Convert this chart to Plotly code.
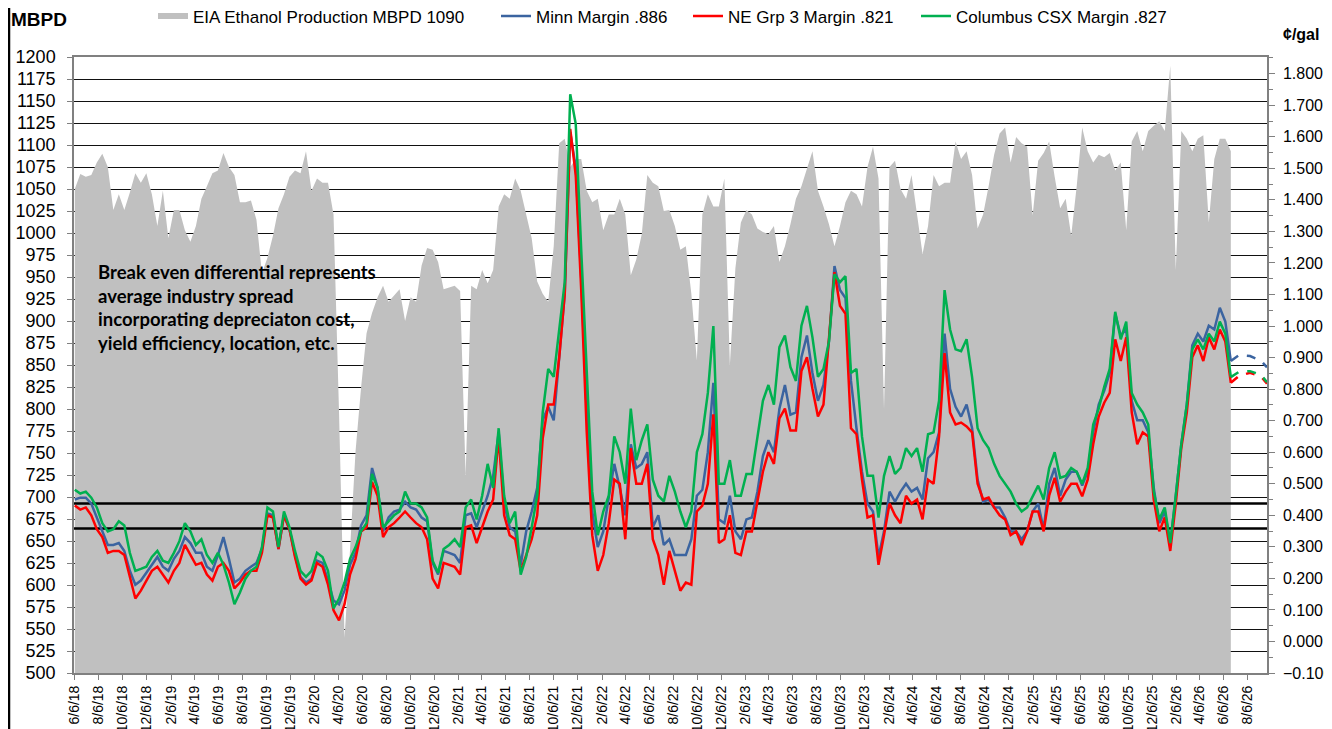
import pandas as pd
import plotly.graph_objects as go

start_date = "2018-06-06"

production = [
    1050, 1067, 1064, 1066, 1080, 1090, 1075, 1026, 1044, 1026,
    1046, 1068, 1057, 1068, 1044, 1008, 1048, 994, 1026, 1026,
    1003, 990, 1008, 1039, 1053, 1068, 1071, 1091, 1075, 1066,
    1035, 1035, 1037, 1015, 954, 972, 997, 1028, 1044, 1064,
    1071, 1068, 1093, 1048, 1062, 1057, 1057, 1021, 797, 540,
    640, 752, 824, 886, 909, 927, 940, 922, 929, 936,
    900, 927, 922, 963, 983, 981, 967, 936, 938, 940,
    934, 725, 940, 936, 958, 943, 958, 1030, 1044, 1039,
    1062, 1048, 1021, 994, 945, 931, 922, 985, 1102, 1107,
    1075, 1084, 1084, 1048, 1035, 1039, 1003, 1021, 1021, 1039,
    1021, 952, 970, 999, 1066, 1057, 1053, 1025, 1026, 1008,
    981, 985, 931, 855, 1021, 1044, 1030, 1030, 1062, 850,
    960, 1012, 1026, 1021, 1005, 1001, 999, 1008, 967, 985,
    1010, 1039, 1053, 1073, 1093, 1048, 1030, 1010, 985, 1008,
    1035, 1048, 1044, 1030, 1075, 1098, 1062, 800, 1075, 1082,
    1050, 1039, 1066, 1021, 976, 1008, 1066, 1053, 1057, 1057,
    1104, 1084, 1093, 1066, 1005, 1021, 1053, 1089, 1113, 1120,
    1080, 1109, 1102, 1098, 1020, 1082, 1091, 1104, 1064, 1028,
    1039, 997, 1053, 1120, 1093, 1080, 1089, 1086, 1091, 1071,
    1080, 1003, 1104, 1116, 1093, 1116, 1122, 1127, 1116, 1190,
    958, 1116, 1107, 1093, 1107, 1111, 1012, 1084, 1107, 1107,
    1093,
]

minn_margin = [
    0.450, 0.456, 0.456, 0.437, 0.393, 0.349, 0.306, 0.306, 0.312, 0.287,
    0.224, 0.180, 0.193, 0.218, 0.243, 0.268, 0.237, 0.224, 0.262, 0.287,
    0.331, 0.312, 0.281, 0.281, 0.237, 0.224, 0.274, 0.331, 0.262, 0.187,
    0.199, 0.224, 0.237, 0.249, 0.293, 0.406, 0.400, 0.293, 0.400, 0.356,
    0.274, 0.205, 0.187, 0.199, 0.256, 0.249, 0.193, 0.130, 0.118, 0.161,
    0.243, 0.281, 0.368, 0.400, 0.550, 0.487, 0.349, 0.393, 0.412, 0.418,
    0.443, 0.425, 0.418, 0.393, 0.381, 0.249, 0.212, 0.287, 0.281, 0.274,
    0.249, 0.400, 0.406, 0.362, 0.412, 0.462, 0.525, 0.663, 0.437, 0.362,
    0.349, 0.243, 0.349, 0.412, 0.487, 0.701, 0.744, 0.701, 0.901, 1.102,
    1.615, 1.503, 1.152, 0.726, 0.412, 0.299, 0.349, 0.450, 0.563, 0.487,
    0.400, 0.625, 0.550, 0.563, 0.600, 0.362, 0.400, 0.306, 0.324, 0.274,
    0.274, 0.274, 0.324, 0.462, 0.481, 0.600, 0.820, 0.387, 0.375, 0.462,
    0.349, 0.324, 0.387, 0.393, 0.475, 0.588, 0.638, 0.600, 0.738, 0.813,
    0.719, 0.726, 0.901, 0.970, 0.851, 0.763, 0.813, 0.951, 1.190, 1.114,
    1.089, 0.826, 0.676, 0.538, 0.437, 0.412, 0.268, 0.349, 0.475, 0.443,
    0.475, 0.500, 0.475, 0.487, 0.450, 0.581, 0.600, 0.663, 0.976, 0.801,
    0.744, 0.713, 0.751, 0.676, 0.513, 0.443, 0.450, 0.425, 0.425, 0.393,
    0.349, 0.349, 0.324, 0.349, 0.412, 0.437, 0.356, 0.500, 0.550, 0.462,
    0.513, 0.538, 0.538, 0.494, 0.538, 0.663, 0.751, 0.795, 0.851, 1.039,
    0.970, 0.989, 0.763, 0.701, 0.701, 0.663, 0.487, 0.375, 0.412, 0.312,
    0.462, 0.625, 0.751, 0.939, 0.976, 0.951, 1.001, 0.989, 1.058, 1.014,
    0.889,
]

ne_grp3_margin = [
    0.431, 0.418, 0.425, 0.400, 0.356, 0.331, 0.281, 0.287, 0.287, 0.274,
    0.205, 0.136, 0.161, 0.193, 0.224, 0.237, 0.212, 0.187, 0.224, 0.249,
    0.306, 0.274, 0.243, 0.249, 0.212, 0.193, 0.237, 0.249, 0.224, 0.168,
    0.187, 0.212, 0.224, 0.224, 0.281, 0.400, 0.393, 0.293, 0.400, 0.356,
    0.268, 0.199, 0.180, 0.193, 0.249, 0.237, 0.180, 0.099, 0.067, 0.118,
    0.212, 0.262, 0.349, 0.362, 0.506, 0.462, 0.331, 0.362, 0.375, 0.393,
    0.412, 0.393, 0.375, 0.362, 0.324, 0.199, 0.168, 0.249, 0.243, 0.237,
    0.212, 0.362, 0.368, 0.312, 0.362, 0.412, 0.450, 0.650, 0.400, 0.337,
    0.324, 0.224, 0.274, 0.324, 0.400, 0.644, 0.751, 0.751, 0.901, 1.102,
    1.625, 1.478, 1.114, 0.663, 0.337, 0.224, 0.274, 0.375, 0.513, 0.500,
    0.324, 0.613, 0.500, 0.500, 0.563, 0.324, 0.274, 0.180, 0.287, 0.224,
    0.161, 0.187, 0.180, 0.412, 0.431, 0.500, 0.720, 0.312, 0.324, 0.400,
    0.281, 0.274, 0.349, 0.349, 0.443, 0.538, 0.600, 0.563, 0.707, 0.738,
    0.669, 0.669, 0.857, 0.901, 0.801, 0.713, 0.751, 0.964, 1.171, 1.064,
    1.039, 0.676, 0.657, 0.513, 0.393, 0.400, 0.243, 0.337, 0.437, 0.400,
    0.375, 0.462, 0.437, 0.450, 0.387, 0.513, 0.500, 0.650, 0.914, 0.726,
    0.688, 0.694, 0.682, 0.663, 0.500, 0.450, 0.456, 0.425, 0.400, 0.387,
    0.337, 0.349, 0.306, 0.349, 0.412, 0.412, 0.349, 0.462, 0.519, 0.443,
    0.475, 0.500, 0.500, 0.460, 0.513, 0.625, 0.713, 0.757, 0.788, 0.958,
    0.889, 0.964, 0.726, 0.625, 0.663, 0.650, 0.450, 0.349, 0.393, 0.287,
    0.437, 0.613, 0.726, 0.901, 0.939, 0.889, 0.964, 0.926, 0.989, 0.951,
    0.820,
]

columbus_margin = [
    0.481, 0.469, 0.475, 0.456, 0.425, 0.375, 0.349, 0.356, 0.381, 0.368,
    0.281, 0.224, 0.230, 0.237, 0.268, 0.287, 0.256, 0.249, 0.281, 0.318,
    0.375, 0.349, 0.306, 0.324, 0.274, 0.249, 0.281, 0.243, 0.187, 0.118,
    0.155, 0.199, 0.224, 0.237, 0.299, 0.425, 0.412, 0.299, 0.412, 0.362,
    0.287, 0.224, 0.205, 0.224, 0.281, 0.268, 0.224, 0.105, 0.136, 0.187,
    0.262, 0.299, 0.349, 0.375, 0.531, 0.487, 0.362, 0.381, 0.400, 0.412,
    0.475, 0.437, 0.437, 0.425, 0.393, 0.256, 0.218, 0.293, 0.306, 0.324,
    0.299, 0.425, 0.450, 0.387, 0.462, 0.563, 0.487, 0.676, 0.462, 0.375,
    0.412, 0.212, 0.268, 0.362, 0.462, 0.726, 0.864, 0.839, 0.989, 1.139,
    1.735, 1.641, 1.240, 0.851, 0.475, 0.337, 0.412, 0.462, 0.650, 0.600,
    0.500, 0.738, 0.575, 0.638, 0.688, 0.513, 0.462, 0.444, 0.525, 0.475,
    0.412, 0.362, 0.412, 0.600, 0.657, 0.788, 1.000, 0.500, 0.500, 0.575,
    0.462, 0.462, 0.531, 0.531, 0.650, 0.763, 0.813, 0.751, 0.933, 0.970,
    0.870, 0.826, 1.001, 1.064, 0.964, 0.839, 0.864, 0.951, 1.164, 1.139,
    1.158, 0.851, 0.864, 0.650, 0.525, 0.525, 0.393, 0.525, 0.588, 0.531,
    0.550, 0.613, 0.588, 0.613, 0.538, 0.657, 0.663, 0.763, 1.114, 0.989,
    0.926, 0.920, 0.958, 0.838, 0.676, 0.638, 0.613, 0.563, 0.525, 0.500,
    0.475, 0.437, 0.412, 0.425, 0.462, 0.494, 0.450, 0.550, 0.600, 0.519,
    0.525, 0.550, 0.538, 0.500, 0.550, 0.688, 0.738, 0.807, 0.864, 1.045,
    0.958, 1.014, 0.788, 0.751, 0.726, 0.688, 0.475, 0.387, 0.425, 0.312,
    0.462, 0.625, 0.751, 0.926, 0.958, 0.926, 0.976, 0.951, 1.014, 0.976,
    0.838,
]

forecast_dates = ["2026-06-24", "2026-07-15", "2026-08-12", "2026-09-09", "2026-09-24"]
minn_forecast = [0.889, 0.908, 0.905, 0.890, 0.869]
ne_grp3_forecast = [0.820, 0.842, 0.852, 0.840, 0.817]
columbus_forecast = [0.838, 0.855, 0.857, 0.845, 0.822]

breakeven_high = 0.437
breakeven_low = 0.358

tick_dates = pd.date_range("2018-06-01", "2026-08-01", freq="2MS") + pd.Timedelta(days=5)
tick_text = [f"{d.month}/{d.day}/{d.strftime('%y')}" for d in tick_dates]

dates = pd.date_range(start_date, periods=len(production), freq="14D")
assert len(minn_margin) == len(ne_grp3_margin) == len(columbus_margin) == len(production)

BLUE = "#3B64A0"
RED = "#FF0000"
GREEN = "#00B050"
GRAY = "#C0C0C0"

# The page body has an 8px margin; the figure is sized to fill the rest of the window.
OFF = 8
W, H = 1332 - OFF, 729 - OFF
L, T = 74 - OFF, 57 - OFF
R = W - (1267 - OFF)
B = H - (673 - OFF)
pw, ph = W - L - R, H - T - B


def px_x(ref_px):
    return (ref_px - OFF - L) / pw


def px_y(ref_py):
    return (H - B - (ref_py - OFF)) / ph


fig = go.Figure()
fig.add_trace(go.Scatter(
    x=dates, y=production, name="EIA Ethanol Production MBPD 1090",
    mode="none", fill="tozeroy", fillcolor=GRAY, yaxis="y", legend="legend",
))
for lvl in (breakeven_high, breakeven_low):
    fig.add_trace(go.Scatter(
        x=["2018-06-01", "2026-09-30"], y=[lvl, lvl], mode="lines",
        line=dict(color="black", width=2.5), yaxis="y2", showlegend=False,
        hoverinfo="skip",
    ))
series = [
    ("Minn Margin .886", minn_margin, minn_forecast, BLUE, "legend2"),
    ("NE Grp 3 Margin .821", ne_grp3_margin, ne_grp3_forecast, RED, "legend3"),
    ("Columbus CSX Margin .827", columbus_margin, columbus_forecast, GREEN, "legend4"),
]
for name, vals, fc, col, lg in series:
    fig.add_trace(go.Scatter(
        x=dates, y=vals, name=name, mode="lines",
        line=dict(color=col, width=2.5), yaxis="y2", legend=lg,
    ))
    fig.add_trace(go.Scatter(
        x=forecast_dates, y=fc, mode="lines", showlegend=False,
        line=dict(color=col, width=2.5, dash="dash"), yaxis="y2",
    ))

legend_font = dict(size=17, family="Arial, Liberation Sans, sans-serif", color="black")


def legend_at(ref_px):
    return dict(
        orientation="h", x=px_x(ref_px), y=px_y(16.5), xanchor="left", yanchor="middle",
        font=legend_font, bgcolor="rgba(0,0,0,0)",
    )


fig.update_layout(
    width=W, height=H,
    margin=dict(l=L, r=R, t=T, b=B, autoexpand=False),
    paper_bgcolor="white", plot_bgcolor="white",
    font=dict(family="Arial, Liberation Sans, sans-serif", color="black"),
    showlegend=True,
    legend=legend_at(153),
    legend2=legend_at(496),
    legend3=legend_at(688),
    legend4=legend_at(916),
    xaxis=dict(
        type="date", range=["2018-06-04", "2026-09-24"],
        tickvals=tick_dates, ticktext=tick_text, tickangle=-90,
        tickfont=dict(size=14), ticks="outside", ticklen=5, tickcolor="#808080",
        showline=True, linecolor="#808080", linewidth=2, mirror=True,
        showgrid=False, zeroline=False, automargin=False,
    ),
    yaxis=dict(
        range=[500, 1200], dtick=25, tickfont=dict(size=18),
        ticks="outside", ticklen=5, tickcolor="#808080", ticklabelstandoff=8,
        showline=True, linecolor="#808080", linewidth=1.5,
        showgrid=True, gridcolor="#111111", gridwidth=1, zeroline=False,
        automargin=False,
    ),
    yaxis2=dict(
        range=[-0.1, 1.853], dtick=0.1, tickformat=".3f", overlaying="y", side="right",
        tickfont=dict(size=16), ticks="outside", ticklen=6, tickcolor="#808080",
        ticklabelstandoff=5,
        minor=dict(dtick=0.05, ticks="outside", ticklen=4, tickcolor="#808080"),
        showline=True, linecolor="#808080", linewidth=1.5,
        showgrid=False, zeroline=False, automargin=False,
    ),
    shapes=[dict(
        type="line", xref="paper", yref="paper",
        x0=px_x(9), x1=px_x(9), y0=-0.2, y1=1.2,
        line=dict(color="black", width=2.5), layer="above",
    )],
)

annotations = [
    dict(text="<b>MBPD</b>", x=px_x(9), y=px_y(20), xanchor="left", yanchor="middle",
         font=dict(size=19)),
    dict(text="<b>¢/gal</b>", x=px_x(1281), y=px_y(35), xanchor="left", yanchor="middle",
         font=dict(size=16)),
]
note_lines = [
    "Break even differential represents",
    "average industry spread",
    "incorporating depreciaton cost,",
    "yield efficiency, location, etc.",
]
for k, line in enumerate(note_lines):
    annotations.append(dict(
        text=f"<b>{line}</b>", x=px_x(96), y=px_y(272 + 23.7 * k),
        xanchor="left", yanchor="middle",
        font=dict(size=18.5, family="Lato, Open Sans, sans-serif"),
    ))
for a in annotations:
    a.update(xref="paper", yref="paper", showarrow=False)
fig.update_layout(annotations=annotations)

fig.write_html("out.html")
